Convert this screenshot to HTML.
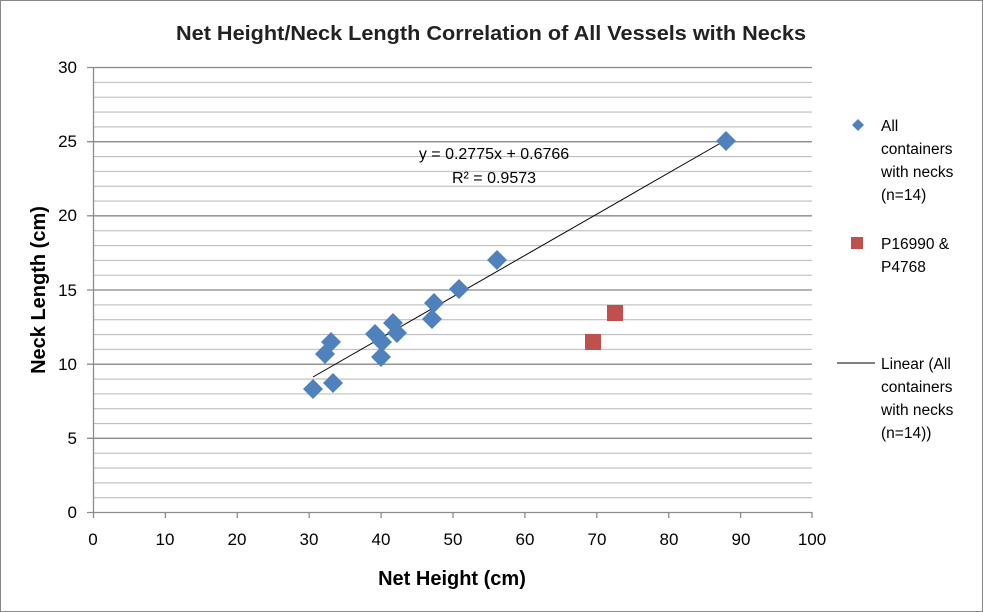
<!DOCTYPE html><html><head><style>body{margin:0}svg{display:block}text{font-family:"Liberation Sans",sans-serif}</style></head><body>
<svg width="983" height="612" xmlns="http://www.w3.org/2000/svg">
<defs><pattern id="g" x="93" y="512" width="719" height="14.833" patternUnits="userSpaceOnUse"><line x1="0" y1="0.5" x2="719" y2="0.5" stroke="#bdbdbd" stroke-width="1.2"/></pattern>
<symbol id="d" viewBox="-10 -10 20 20" overflow="visible"><path d="M0 -10L10 0L0 10L-10 0Z" fill="#4f81bd"/></symbol></defs>
<rect x="0.5" y="0.5" width="982" height="611" fill="#fff" stroke="#888"/>
<rect x="93" y="67" width="719" height="445" fill="url(#g)"/>
<g stroke="#8c8c8c" stroke-width="1.3">
<line x1="87" y1="67.5" x2="812" y2="67.5"/><line x1="87" y1="141.7" x2="812" y2="141.7"/><line x1="87" y1="215.8" x2="812" y2="215.8"/><line x1="87" y1="290" x2="812" y2="290"/><line x1="87" y1="364.2" x2="812" y2="364.2"/><line x1="87" y1="438.3" x2="812" y2="438.3"/><line x1="87" y1="512.5" x2="812" y2="512.5"/>
<line x1="93.5" y1="67" x2="93.5" y2="512"/>
<line x1="93.5" y1="512" x2="93.5" y2="518"/><line x1="165.4" y1="512" x2="165.4" y2="518"/><line x1="237.3" y1="512" x2="237.3" y2="518"/><line x1="309.2" y1="512" x2="309.2" y2="518"/><line x1="381.1" y1="512" x2="381.1" y2="518"/><line x1="453" y1="512" x2="453" y2="518"/><line x1="524.9" y1="512" x2="524.9" y2="518"/><line x1="596.8" y1="512" x2="596.8" y2="518"/><line x1="668.7" y1="512" x2="668.7" y2="518"/><line x1="740.6" y1="512" x2="740.6" y2="518"/><line x1="812" y1="512" x2="812" y2="518"/>
</g>
<g font-size="17" fill="#000" text-anchor="end">
<text x="77" y="73">30</text><text x="77" y="147">25</text><text x="77" y="221">20</text><text x="77" y="296">15</text><text x="77" y="370">10</text><text x="77" y="444">5</text><text x="77" y="518">0</text></g>
<g font-size="17" fill="#000" text-anchor="middle">
<text x="93" y="545">0</text><text x="165" y="545">10</text><text x="237" y="545">20</text><text x="309" y="545">30</text><text x="381" y="545">40</text><text x="453" y="545">50</text><text x="525" y="545">60</text><text x="597" y="545">70</text><text x="669" y="545">80</text><text x="741" y="545">90</text><text x="812" y="545">100</text></g>
<text x="176" y="40" font-size="20" font-weight="bold" fill="#222" textLength="630" lengthAdjust="spacingAndGlyphs">Net Height/Neck Length Correlation of All Vessels with Necks</text>
<text x="452" y="585" font-size="20" font-weight="bold" text-anchor="middle">Net Height (cm)</text>
<text transform="translate(45,290) rotate(-90)" font-size="20" font-weight="bold" text-anchor="middle">Neck Length (cm)</text>
<line x1="313" y1="377" x2="726" y2="140" stroke="#000" stroke-width="1"/>
<g>
<use href="#d" x="303" y="379" width="20" height="20"/><use href="#d" x="323" y="373" width="20" height="20"/><use href="#d" x="315" y="344" width="20" height="20"/><use href="#d" x="321" y="332" width="20" height="20"/><use href="#d" x="365" y="324" width="20" height="20"/><use href="#d" x="371" y="347" width="20" height="20"/><use href="#d" x="372" y="332" width="20" height="20"/><use href="#d" x="383" y="313" width="20" height="20"/><use href="#d" x="387" y="323" width="20" height="20"/><use href="#d" x="422" y="309" width="20" height="20"/><use href="#d" x="424" y="293" width="20" height="20"/><use href="#d" x="449" y="279" width="20" height="20"/><use href="#d" x="487" y="250" width="20" height="20"/><use href="#d" x="716" y="131" width="20" height="20"/>
</g>
<rect x="585" y="334" width="16" height="16" fill="#c0504d"/><rect x="607" y="305" width="16" height="16" fill="#c0504d"/>
<text x="494" y="159" font-size="16" text-anchor="middle">y = 0.2775x + 0.6766</text>
<text x="494" y="183" font-size="16" text-anchor="middle">R² = 0.9573</text>
<path d="M858 119L864 125L858 131L852 125Z" fill="#4f81bd"/>
<rect x="851" y="237" width="12" height="12" fill="#c0504d"/>
<line x1="837" y1="363" x2="875" y2="363" stroke="#000"/>
<g font-size="15.5" fill="#000">
<text x="881" y="131">All</text><text x="881" y="154">containers</text><text x="881" y="177">with necks</text><text x="881" y="200">(n=14)</text>
<text x="881" y="249">P16990 &amp;</text><text x="881" y="272">P4768</text>
<text x="881" y="369">Linear (All</text><text x="881" y="392">containers</text><text x="881" y="415">with necks</text><text x="881" y="438">(n=14))</text>
</g>
</svg></body></html>
